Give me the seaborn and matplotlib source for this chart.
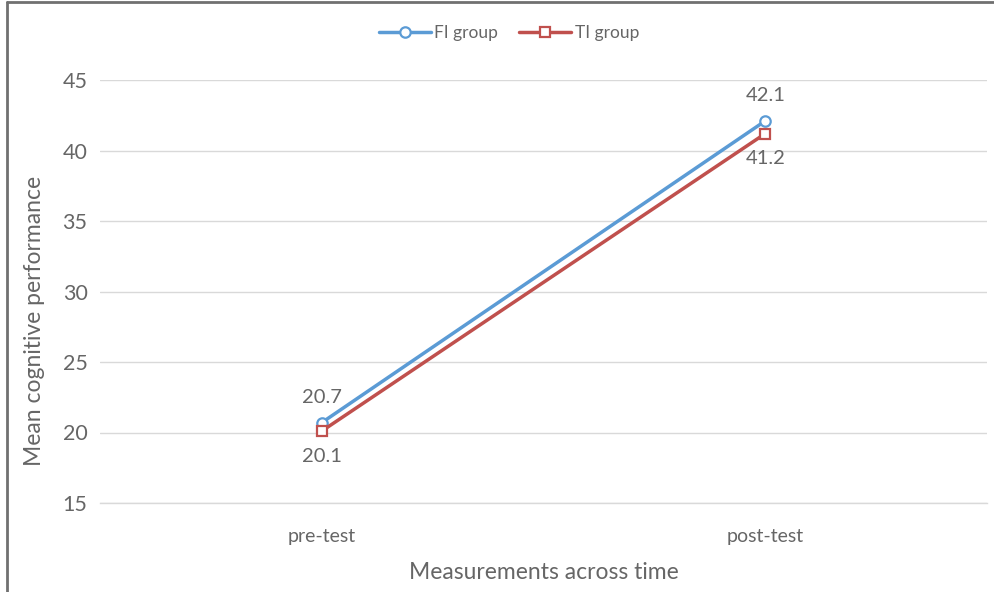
import matplotlib
matplotlib.use("Agg")
import matplotlib.pyplot as plt
from matplotlib.lines import Line2D
import seaborn as sns
import pandas as pd

# Data
times = ["pre-test", "post-test"]
fi_group = [20.7, 42.1]
ti_group = [20.1, 41.2]
groups = ["FI group", "TI group"]

df = pd.DataFrame({
    "time": times * 2,
    "score": fi_group + ti_group,
    "group": [groups[0]] * len(times) + [groups[1]] * len(times),
})

sns.set_theme(style="white")
plt.rcParams["font.family"] = ["Lato", "DejaVu Sans"]

text_gray = "#666666"
grid_gray = "#D9D9D9"
palette = {"FI group": "#5B9BD5", "TI group": "#C0504D"}
markers = {"FI group": "o", "TI group": "s"}

fig = plt.figure(figsize=(9.94, 5.92), dpi=100)
ax = fig.add_axes([100 / 994, (592 - 503) / 592, (987 - 100) / 994, (503 - 80) / 592])

sns.lineplot(data=df, x="time", y="score", hue="group", style="group",
             palette=palette, markers=markers, dashes=False, sort=False,
             linewidth=2.5, markersize=7.5, ax=ax, legend=False)

# Hollow markers with outlines in the series colour
for line in ax.lines:
    line.set_markerfacecolor("white")
    line.set_markeredgecolor(line.get_color())
    line.set_markeredgewidth(1.6)

ax.set_xlim(-0.5, 1.5)
ax.set_ylim(15, 45)
ax.set_yticks(range(15, 50, 5))
ax.yaxis.grid(True, color=grid_gray, linewidth=1)
ax.set_axisbelow(True)
for side in ["top", "right", "left"]:
    ax.spines[side].set_visible(False)
ax.spines["bottom"].set_color(grid_gray)
ax.spines["bottom"].set_linewidth(1)

ax.set_xticks([0, 1])
ax.set_xticklabels(times)
ax.set_xticks([-0.5, 0.5, 1.5], minor=True)
ax.tick_params(axis="x", which="major", length=0, pad=18, labelsize=14, labelcolor=text_gray)
ax.tick_params(axis="x", which="minor", length=5, color=grid_gray, width=1)
ax.tick_params(axis="y", length=0, pad=9, labelsize=15.5, labelcolor=text_gray)

ax.set_xlabel("Measurements across time", fontsize=16.5, color=text_gray, labelpad=12)
ax.set_ylabel("Mean cognitive performance", fontsize=16.5, color=text_gray)
ax.yaxis.set_label_coords(-0.062, 0.43)

# Value labels: FI above the points, TI below
for i, v in enumerate(fi_group):
    ax.annotate(f"{v}", (i, v), xytext=(0, 12), textcoords="offset points",
                ha="center", va="bottom", fontsize=14.5, color=text_gray)
for i, v in enumerate(ti_group):
    ax.annotate(f"{v}", (i, v), xytext=(0, -12), textcoords="offset points",
                ha="center", va="top", fontsize=14.5, color=text_gray)

handles = [Line2D([0], [0], color=palette[g], marker=markers[g], markersize=7.5,
                  markerfacecolor="white", markeredgecolor=palette[g],
                  markeredgewidth=1.6, linewidth=2.5)
           for g in groups]
fig.legend(handles, groups, loc="center", bbox_to_anchor=(509 / 994, 1 - 33 / 592),
           ncol=2, frameon=False, fontsize=12.5, labelcolor=text_gray,
           handlelength=3.0, handletextpad=0.2, columnspacing=1.2)

# Outer frame on the left and top edges
fig.add_artist(Line2D([7 / 994, 7 / 994], [0, 1 - 2 / 592], color="#707070", linewidth=2,
                      transform=fig.transFigure))
fig.add_artist(Line2D([7 / 994, 1], [1 - 2 / 592, 1 - 2 / 592], color="#707070", linewidth=2,
                      transform=fig.transFigure))

fig.savefig("out.png", dpi=100, facecolor="white")
